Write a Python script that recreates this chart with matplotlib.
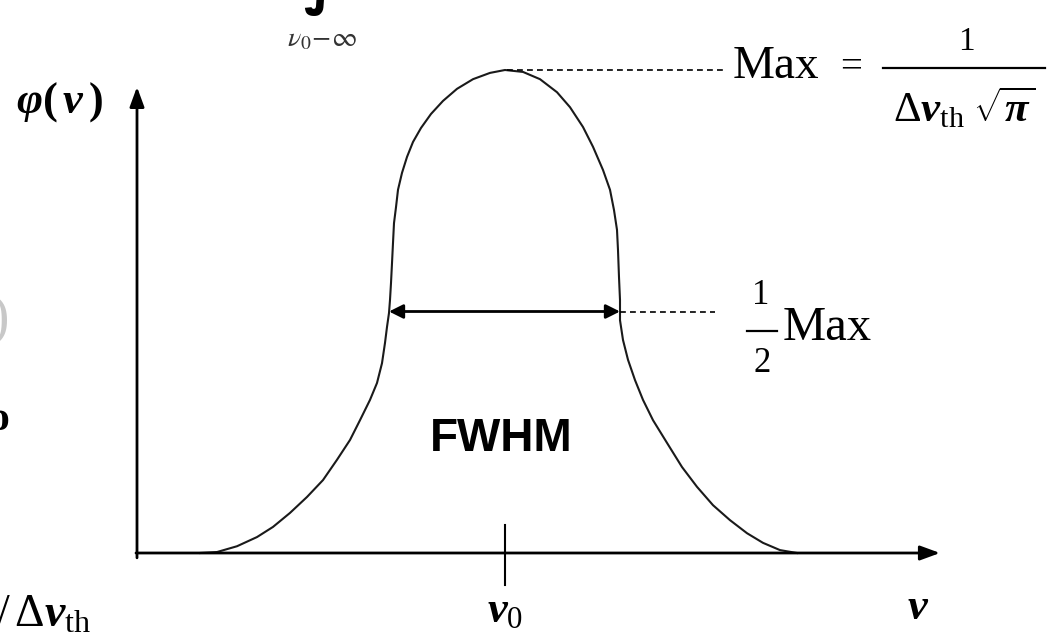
import matplotlib
matplotlib.use("Agg")
import matplotlib.pyplot as plt

# Doppler line profile phi(nu), nu measured from nu0 (arbitrary units), phi normalised to Max
nu_left = [-3.05, -2.88, -2.68, -2.48, -2.32, -2.15, -1.98, -1.82, -1.68, -1.55,
           -1.45, -1.35, -1.28, -1.23, -1.20, -1.18, -1.16, -1.15, -1.14, -1.13,
           -1.12, -1.11, -1.09, -1.07, -1.03, -0.98, -0.92, -0.84, -0.74, -0.62,
           -0.48, -0.32, -0.15, 0.00]
phi_left = [0.000, 0.002, 0.014, 0.033, 0.054, 0.083, 0.116, 0.151, 0.193, 0.234,
            0.275, 0.317, 0.352, 0.393, 0.435, 0.468, 0.497, 0.524, 0.559, 0.600,
            0.642, 0.683, 0.716, 0.752, 0.787, 0.820, 0.851, 0.880, 0.909, 0.936,
            0.961, 0.981, 0.994, 1.000]
nu_right = [0.18, 0.35, 0.52, 0.65, 0.78, 0.88, 0.98, 1.05, 1.09, 1.12,
            1.13, 1.14, 1.15, 1.15, 1.18, 1.23, 1.30, 1.38, 1.48, 1.62,
            1.77, 1.92, 2.08, 2.25, 2.42, 2.58, 2.75, 2.92]
phi_right = [0.996, 0.981, 0.954, 0.923, 0.882, 0.841, 0.793, 0.752, 0.710, 0.669,
             0.627, 0.571, 0.524, 0.482, 0.441, 0.400, 0.358, 0.317, 0.275, 0.228,
             0.178, 0.137, 0.099, 0.068, 0.041, 0.021, 0.006, 0.000]

nu = nu_left + nu_right
phi = phi_left + phi_right

MAX = 1.0
HALF = 0.5 * MAX
nu_half = (-1.16, 1.15)

W, H = 1048, 633
plt.rcParams['mathtext.fontset'] = 'custom'
plt.rcParams['mathtext.rm'] = 'Liberation Serif'
plt.rcParams['mathtext.it'] = 'Liberation Serif:bold:italic'
plt.rcParams['mathtext.bf'] = 'Liberation Serif:bold'

fig = plt.figure(figsize=(W / 100, H / 100), dpi=100)
ax = fig.add_axes([0, 0, 1, 1])
ax.axis('off')
ax.set_xlim(-5.05, 5.43)
ax.set_ylim(-80 / 483, 553 / 483)


def P(px, py):
    # pixel position (from top-left) -> axes fraction
    return (px / W, 1 - py / H)


tr = ax.transAxes

# axes with arrow heads
ax.annotate('', xy=(4.35, 0), xytext=(-3.69, 0),
            arrowprops=dict(arrowstyle='-|>,head_length=0.6,head_width=0.22',
                            lw=2, color='k', shrinkA=0, shrinkB=0, mutation_scale=20))
ax.annotate('', xy=(-3.68, 0.965), xytext=(-3.68, -0.01),
            arrowprops=dict(arrowstyle='-|>,head_length=0.6,head_width=0.22',
                            lw=2, color='k', shrinkA=0, shrinkB=0, mutation_scale=20))

# nu0 tick
ax.plot([0, 0], [0.058, -0.066], color='k', lw=1.5)

# profile
ax.plot(nu, phi, color='#1a1a1a', lw=1.5, solid_joinstyle='round')

# maximum and half maximum guides
ax.plot([0.02, 2.22], [MAX, MAX], color='k', lw=1.2, ls=(0, (3.5, 2.5)))
ax.plot([nu_half[1], 2.10], [HALF, HALF], color='k', lw=1.2, ls=(0, (3.5, 2.5)))
ax.annotate('', xy=(nu_half[0], HALF), xytext=(nu_half[1], HALF),
            arrowprops=dict(arrowstyle='<|-|>,head_length=0.6,head_width=0.3',
                            lw=2, color='k', shrinkA=0, shrinkB=0, mutation_scale=14))

serif = 'Liberation Serif'

# axis labels
ax.text(*P(16, 102), r'$\varphi\mathbf{(}\,\nu\,\mathbf{)}$', transform=tr,
        ha='left', va='center', fontsize=32)
ax.text(*P(505, 610), r'$\nu_0$', transform=tr, ha='center', va='center', fontsize=32)
ax.text(*P(917, 608), 'ν', transform=tr, ha='center', va='center',
        family=serif, weight='bold', style='italic', fontsize=32)

# Max = 1 / (dnu_th sqrt(pi))
ax.text(*P(733, 67), 'Max', transform=tr, ha='left', va='center', family=serif, fontsize=34)
ax.text(*P(851, 68), '=', transform=tr, ha='center', va='center', family=serif, fontsize=28)
ax.text(*P(966, 42), '1', transform=tr, ha='center', va='center', family=serif, fontsize=24)
ax.plot([P(883, 0)[0], P(1045, 0)[0]], [P(0, 68)[1]] * 2, transform=tr, color='k', lw=1.6)
ax.text(*P(964, 109), r'$\Delta\nu_{\mathrm{th}}\;\sqrt{\pi}$', transform=tr,
        ha='center', va='center', fontsize=31)

# 1/2 Max
ax.text(*P(761, 296), '1', transform=tr, ha='center', va='center', family=serif, fontsize=25)
ax.plot([P(747, 0)[0], P(777, 0)[0]], [P(0, 331)[1]] * 2, transform=tr, color='k', lw=1.6)
ax.text(*P(762, 364), '2', transform=tr, ha='center', va='center', family=serif, fontsize=25)
ax.text(*P(783, 328), 'Max', transform=tr, ha='left', va='center', family=serif, fontsize=35)

ax.text(*P(501, 439), 'FWHM', transform=tr, ha='center', va='center',
        family='Liberation Sans', weight='bold', fontsize=33)

# pieces of neighbouring formulas cut by the frame
ax.text(*P(322, 38), r'$\nu_0\!-\!\infty$', transform=tr, ha='center', va='center',
        fontsize=20, math_fontfamily='stix', color='#333333')
ax.text(*P(322, 16), '∫', transform=tr, ha='center', va='bottom',
        family='DejaVu Sans', fontsize=44, weight='bold')
ax.text(*P(-4, 614), r'$/\,\Delta\nu_{\mathrm{th}}$', transform=tr, ha='left', va='center',
        fontsize=33)
ax.text(*P(-10, 320), ')', transform=tr, ha='left', va='center', family=serif,
        fontsize=40, color='#c8c8c8')
ax.text(*P(-12, 420), 'o', transform=tr, ha='left', va='center', family=serif,
        weight='bold', fontsize=30)

fig.savefig('out.png', dpi=100)
